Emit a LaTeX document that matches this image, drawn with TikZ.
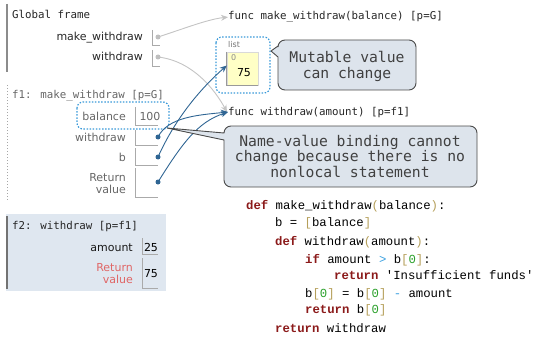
\documentclass[tikz,border=0pt]{standalone}
\usepackage{fontspec}
\setsansfont{DejaVu Sans}
\setmonofont{Liberation Mono}
\newfontfamily\boxmono{DejaVu Sans Mono}
\usetikzlibrary{arrows.meta}

\definecolor{ptrblue}{HTML}{2F6593}
\definecolor{ptrgrey}{HTML}{C4C4C4}
\definecolor{dotblue}{HTML}{3A9AD9}
\definecolor{notefill}{HTML}{DDE4EC}
\definecolor{notedraw}{HTML}{4A4A4A}
\definecolor{framefill}{HTML}{DFE7F0}
\definecolor{listfill}{HTML}{FFFFC6}
\definecolor{retred}{HTML}{E06666}
\definecolor{kwred}{HTML}{8B1A1A}
\definecolor{brk}{HTML}{B59F5A}
\definecolor{numgreen}{HTML}{2BA02B}
\definecolor{opblue}{HTML}{3AA0E0}
\definecolor{boxline}{HTML}{AAAAAA}

\newcommand{\kw}[1]{\textcolor{kwred}{\bfseries #1}}
\newcommand{\br}[1]{\textcolor{brk}{#1}}
\newcommand{\cnum}[1]{\textcolor{numgreen}{#1}}
\newcommand{\cop}[1]{\textcolor{opblue}{#1}}

\tikzset{
  hdr/.style={anchor=base west, inner sep=0, font=\boxmono\fontsize{10.8}{12}\selectfont, text=black!85},
  vname/.style={anchor=base east, inner sep=0, font=\sffamily\fontsize{11}{13}\selectfont},
  val/.style={anchor=base, inner sep=0, font=\sffamily\fontsize{11}{13}\selectfont},
  code/.style={anchor=base west, inner sep=0, font=\ttfamily\fontsize{12.3}{14}\selectfont},
  note/.style={align=center, inner sep=0, text=black!75, font=\boxmono\fontsize{14.7}{16}\selectfont},
  notebox/.style={draw=notedraw, fill=notefill, line width=0.9pt},
  cell/.style={draw=boxline, line width=0.8pt},
  dotbox/.style={draw=dotblue, line width=1.2pt, dash pattern=on 1.5pt off 1.6pt, rounded corners=6pt},
  gdot/.style={circle, fill=black!25, inner sep=0, minimum size=5pt},
  bdot/.style={circle, fill=ptrblue, inner sep=0, minimum size=5pt},
  gptr/.style={draw=ptrgrey, line width=0.9pt, -{Stealth[length=7pt,width=6pt]}},
  bptr/.style={draw=ptrblue, line width=0.9pt, -{Stealth[length=7pt,width=6pt]}}
}

\begin{document}
\begin{tikzpicture}[x=1pt, y=-1pt]
  \useasboundingbox (0,0) rectangle (533,337);

  % global frame
  \draw[black!45, line width=1.3pt] (7,4) -- (7,72);
  \node[hdr] (gf) at (12,19) {Global frame};
  \node[vname, text=black!85] (gmwl) at (143,41) {make\_withdraw};
  \node[vname, text=black!85] (gwl) at (143,61) {withdraw};
  \draw[cell] (152,30) -- (152,45) -- (160,45);
  \draw[cell] (152,50) -- (152,66) -- (160,66);
  \coordinate (gmw) at (158,37);
  \coordinate (gw) at (158,57);

  % f1 frame
  \draw[black!35, line width=1pt, dotted] (7,85) -- (7,200);
  \node[hdr, text=black!60] (f1) at (12,99) {f1: make\_withdraw [p=G]};
  \node[vname, text=black!60] (bal) at (126,120) {balance};
  \node[vname, text=black!60] (wl) at (126,141) {withdraw};
  \node[vname, text=black!60] (bl) at (126,161) {b};
  \node[vname, text=black!60] (rl1) at (126,181) {Return};
  \node[vname, text=black!60] (rl2) at (126,193) {value};
  \draw[cell] (135,107) -- (135,125) -- (158,125);
  \draw[cell] (135,130) -- (135,145) -- (158,145);
  \draw[cell] (135,148) -- (135,165) -- (158,165);
  \draw[cell] (135,168) -- (135,197) -- (158,197);
  \node[val, text=black!60] (bv) at (150,120) {100};
  \draw[dotbox] (77,102) rectangle (169,129);
  \coordinate (d1w) at (158,137);
  \coordinate (d1b) at (158,157);
  \coordinate (d1r) at (158,182);

  % f2 frame
  \fill[framefill] (6,214) rectangle (166,291);
  \draw[black!55, line width=1.3pt] (7,216) -- (7,289);
  \node[hdr] (f2) at (12,229) {f2: withdraw [p=f1]};
  \node[vname, text=black!90] (al) at (133,251) {amount};
  \node[vname, text=retred] (rr1) at (133,271) {Return};
  \node[vname, text=retred] (rr2) at (133,283) {value};
  \draw[cell] (142,238) -- (142,254) -- (158,254);
  \draw[cell] (142,258) -- (142,288) -- (158,288);
  \node[val] (av) at (151,251) {25};
  \node[val] (rv) at (151,277) {75};

  % heap
  \node[hdr] (fmw) at (228,20) {func make\_withdraw(balance) [p=G]};
  \node[hdr] (fwd) at (228,115) {func withdraw(amount) [p=f1]};
  \draw[dotbox] (216,37) rectangle (270,93);
  \node[anchor=base west, inner sep=0, text=black!55, font=\sffamily\fontsize{8}{9}\selectfont] (lt) at (228,48) {list};
  \node[fill=listfill, draw=black!15, inner sep=0, minimum width=31pt, minimum height=33pt] (lst) at (242.5,68.5) {};
  \draw[black!40, line width=0.8pt] (lst.north west) -- (lst.south west) -- (lst.south east);
  \node[anchor=base west, inner sep=0, text=black!45, font=\sffamily\fontsize{8}{9}\selectfont] (li) at (231,61) {0};
  \node[val] (lv) at (244,77) {75};

  % pointers
  \draw[gptr] (gmw) .. controls +(25,-8) and +(-20,2) .. (fmw.west);
  \draw[gptr] (gw) .. controls +(35,4) and +(-12,-22) .. ([xshift=-1pt]fwd.west);
  \draw[bptr] (d1w) .. controls +(10,-20) and +(-30,3) .. (fwd.west);
  \draw[bptr] (d1b) .. controls +(18,-40) and +(-25,22) .. ([yshift=3pt]lst.west);
  \draw[bptr] (d1r) .. controls +(25,-40) and +(-30,10) .. (fwd.west);
  \node[gdot] at (gmw) {};
  \node[gdot] at (gw) {};
  \node[bdot] at (d1w) {};
  \node[bdot] at (d1b) {};
  \node[bdot] at (d1r) {};

  % callouts
  \draw[notebox] (278,57) -- (271,51) -- (278,46)
    {[rounded corners=7pt] -- (278,40) -- (416,40) -- (416,90) -- (278,90)} -- cycle;
  \node[note] (n1) at (347,66) {Mutable value\\can change};
  \draw[notebox] (224,140) -- (167,128) -- (224,133)
    {[rounded corners=7pt] -- (224,126) -- (477,126) -- (477,187) -- (224,187)} -- cycle;
  \node[note, font=\boxmono\fontsize{14.7}{15.5}\selectfont] (n2) at (350,156)
    {Name-value binding cannot\\change because there is no\\nonlocal statement};

  % code
  \node[code] (c1) at (246,209) {\kw{def} make\_withdraw\br{(}balance\br{)}:};
  \node[code] (c2) at (275,226) {b = \br{[}balance\br{]}};
  \node[code] (c3) at (275,245) {\kw{def} withdraw\br{(}amount\br{)}:};
  \node[code] (c4) at (305,263) {\kw{if} amount \cop{>} b\br{[}\cnum{0}\br{]}:};
  \node[code] (c5) at (334,279) {\kw{return} 'Insufficient funds'};
  \node[code] (c6) at (305,297) {b\br{[}\cnum{0}\br{]} = b\br{[}\cnum{0}\br{]} \cop{-} amount};
  \node[code] (c7) at (305,313) {\kw{return} b\br{[}\cnum{0}\br{]}};
  \node[code] (c8) at (275,332) {\kw{return} withdraw};
\end{tikzpicture}
\end{document}
